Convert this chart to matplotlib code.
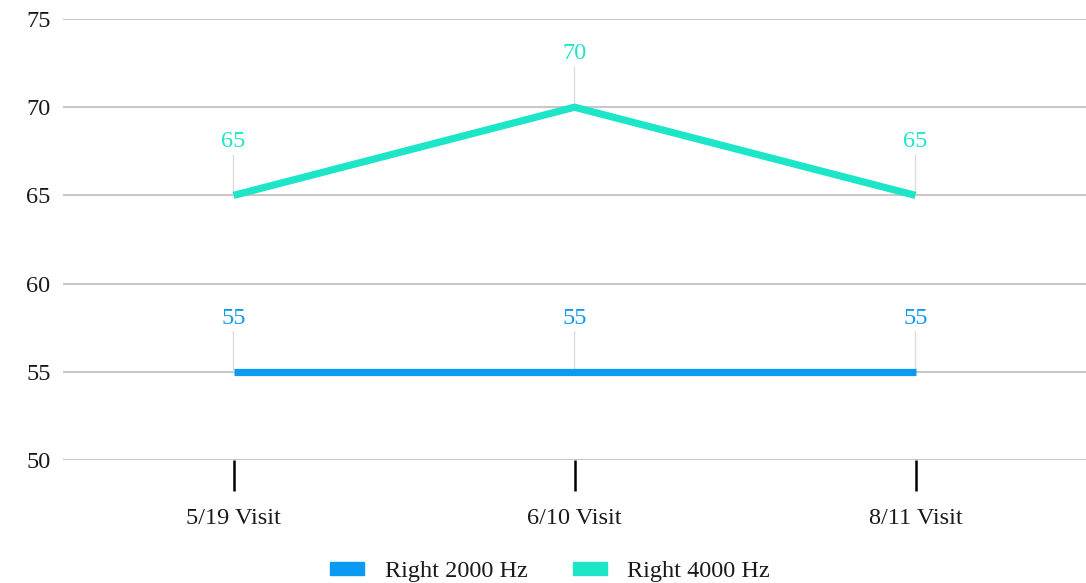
import matplotlib
matplotlib.use('Agg')
import matplotlib.pyplot as plt
from matplotlib.patches import Patch

# hearing thresholds per visit (dB)
visits = ['5/19 Visit', '6/10 Visit', '8/11 Visit']
right_2000 = [55, 55, 55]
right_4000 = [65, 70, 65]
series = [('Right 2000 Hz', right_2000, '#0A9AF2'),
          ('Right 4000 Hz', right_4000, '#1DE5C7')]

plt.rcParams['font.family'] = ['Liberation Serif', 'DejaVu Serif']
FS = 17.5

fig = plt.figure(figsize=(10.86, 5.83), dpi=100)
ax = fig.add_axes([63 / 1086, 1 - 460 / 583, 1 - 63 / 1086, (460 - 19) / 583])

x = list(range(len(visits)))
for name, vals, col in series:
    ax.plot(x, vals, color=col, lw=5.2, solid_capstyle='butt', zorder=3)
    for xi, v in zip(x, vals):
        # thin leader line from the point up to its value label
        ax.annotate(str(v), (xi, v), xytext=(0, 31), textcoords='offset points',
                    ha='center', va='bottom', fontsize=FS, color=col,
                    arrowprops=dict(arrowstyle='-', color='#dddddd', lw=1,
                                    shrinkA=0, shrinkB=0), zorder=2)

ax.set_xlim(-0.5, 2.5)
ax.set_ylim(50, 75)
ax.set_yticks([50, 55, 60, 65, 70, 75])
ax.set_xticks(x)
ax.set_xticklabels(visits)
ax.grid(axis='y', color='#c8c8c8', lw=1.5)
ax.set_axisbelow(True)
for s in ax.spines.values():
    s.set_visible(False)
ax.tick_params(axis='y', length=0, pad=9, labelsize=FS, labelcolor='#1a1a1a')
ax.tick_params(axis='x', length=22, width=1.8, color='black', pad=12.5,
               labelsize=FS, labelcolor='#1a1a1a', direction='out')

handles = [Patch(color=col, label=name) for name, _, col in series]
leg = fig.legend(handles=handles, loc='center', bbox_to_anchor=(550 / 1086, 1 - 572 / 583),
                 ncol=2, frameon=False, fontsize=FS, handlelength=1.4, handleheight=0.45,
                 handletextpad=0.85, columnspacing=1.85)
for t in leg.get_texts():
    t.set_color('#1a1a1a')

fig.savefig('out.png', dpi=100)
